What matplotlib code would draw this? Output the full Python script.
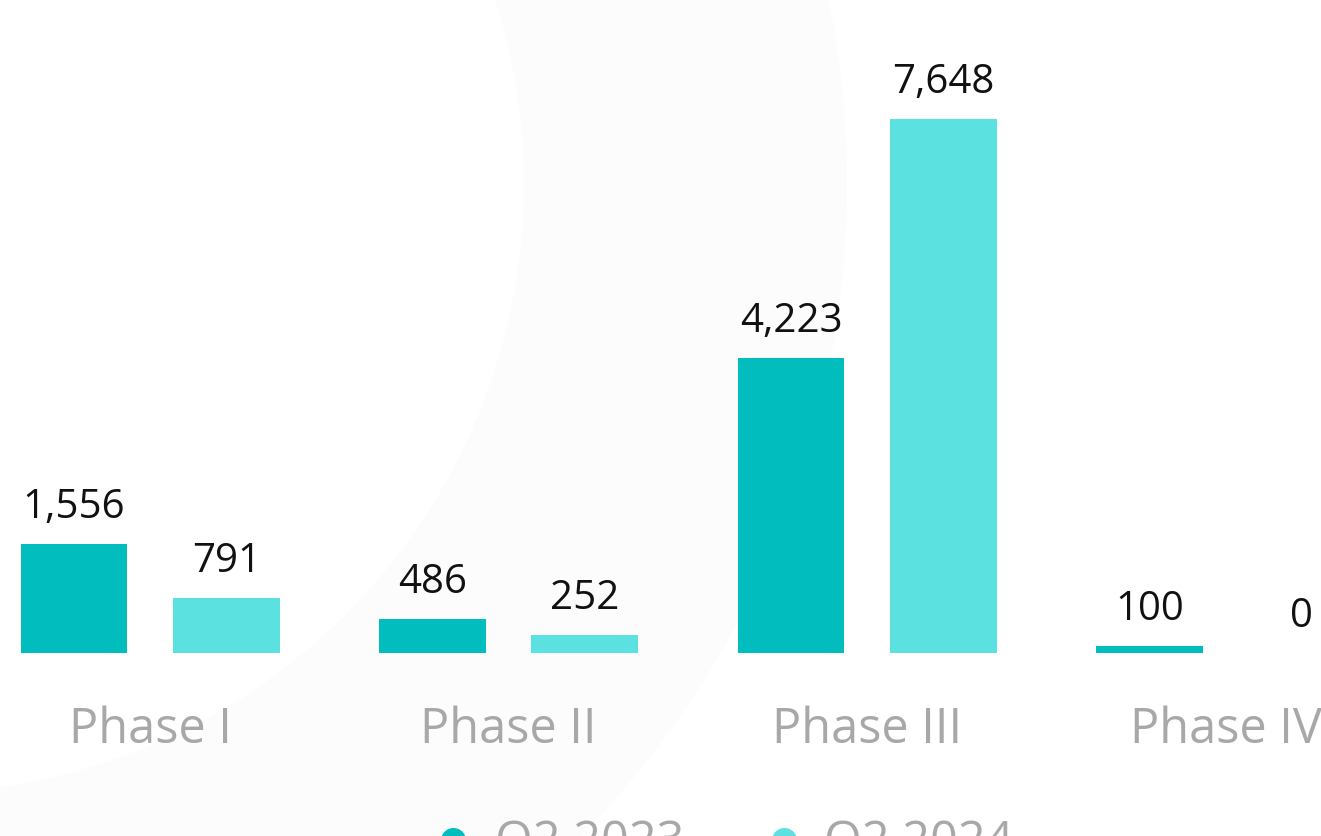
import matplotlib
matplotlib.use("Agg")
import matplotlib.pyplot as plt
from matplotlib.patches import Wedge

plt.rcParams["font.family"] = ["Open Sans", "DejaVu Sans"]

phases = ["Phase I", "Phase II", "Phase III", "Phase IV"]
series_names = ["Q2 2023", "Q2 2024"]
q2_2023 = [1556, 486, 4223, 100]
q2_2024 = [791, 252, 7648, 0]

dark = "#02bdbd"
light = "#5ce1e1"
label_gray = "#a8a8a8"

fig = plt.figure(figsize=(13.21, 8.37), dpi=100)

# faint decorative ring behind everything, drawn in pixel space
bg = fig.add_axes([0, 0, 1, 1], zorder=-1)
bg.set_xlim(0, 1321)
bg.set_ylim(837, 0)
bg.axis("off")
bg.add_patch(Wedge((-85, 185), 932, 0, 360, width=932 - 609,
                   facecolor="#fcfcfc", edgecolor="none"))

ax = fig.add_axes([0, 0, 1, 1], zorder=1)
ax.patch.set_alpha(0)
ax.set_xlim(-0.419, 3.266)
ax.set_ylim(-2621, 9366)
ax.axis("off")

w = 0.298
off = 0.2125
x = list(range(len(phases)))

ax.bar([i - off for i in x], q2_2023, width=w, color=dark, zorder=2)
ax.bar([i + off for i in x], q2_2024, width=w, color=light, zorder=2)

for i in x:
    for xs, v in ((i - off, q2_2023[i]), (i + off, q2_2024[i])):
        ax.annotate(f"{v:,}", xy=(xs, v), xytext=(0, 19.5),
                    textcoords="offset points", ha="center", va="baseline",
                    fontsize=29, color="#111111")
    ax.annotate(phases[i], xy=(i, 0), xytext=(0, -64),
                textcoords="offset points", ha="center", va="baseline",
                fontsize=35, color=label_gray)

# legend, mostly cut off by the bottom edge
for name, col, dot_x, txt_x in ((series_names[0], dark, 453, 495),
                                (series_names[1], light, 784, 824)):
    ax.plot([dot_x / 1321], [(837 - 841) / 837], "o", color=col,
            markersize=17, transform=fig.transFigure, clip_on=False)
    ax.text(txt_x / 1321, (837 - 856) / 837, name, ha="left",
            va="baseline", fontsize=35, color=label_gray,
            transform=fig.transFigure)

fig.savefig("out.png", dpi=100)
